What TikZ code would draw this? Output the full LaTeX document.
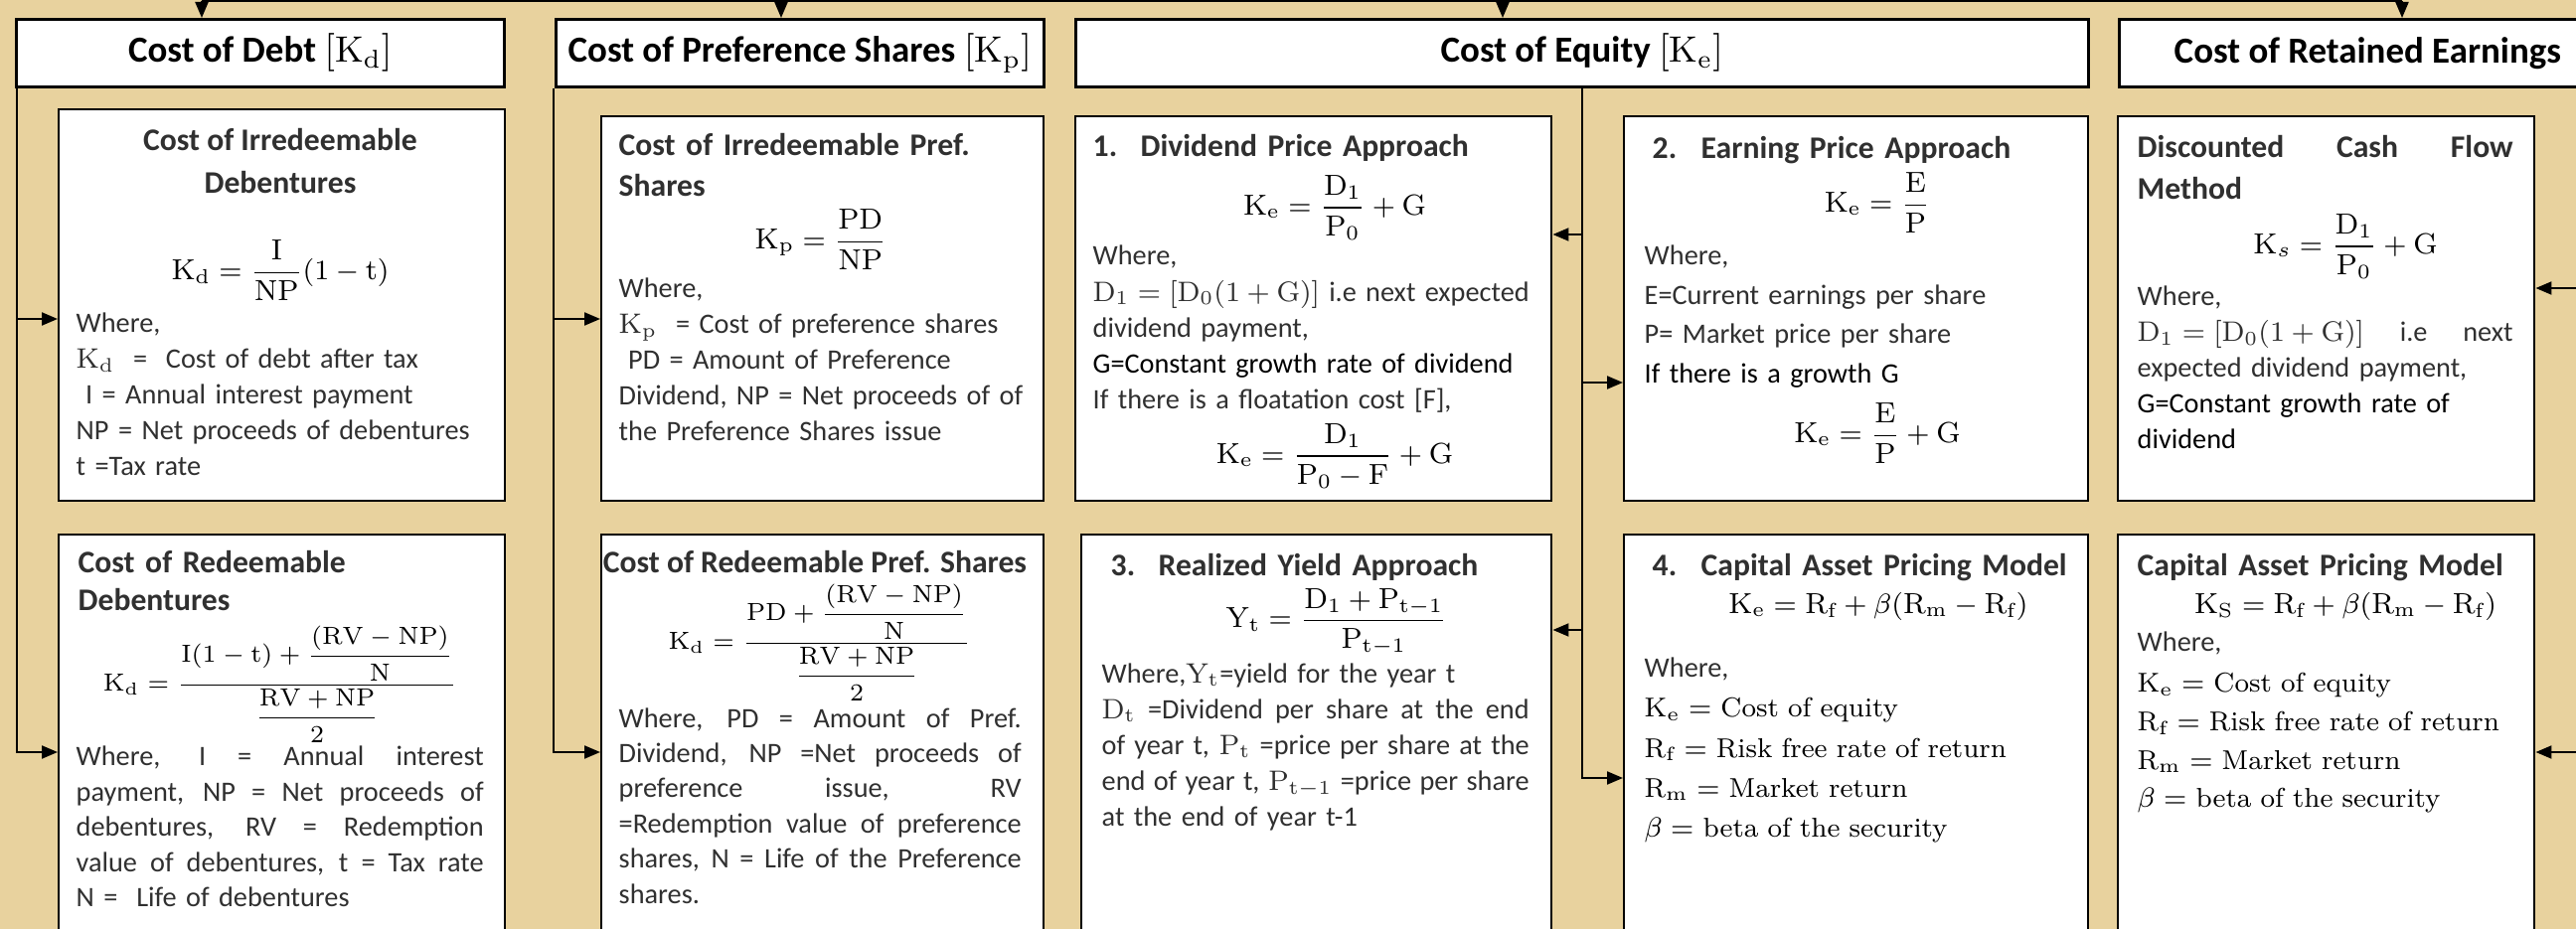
\documentclass[tikz,border=0pt]{standalone}
\usepackage{amsmath}
\usepackage{fontspec}
\setsansfont{Carlito}
\usetikzlibrary{arrows.meta}
\definecolor{parchment}{HTML}{E8D29E}
\definecolor{inkgray}{HTML}{303030}
\newcommand{\jline}[2]{\leavevmode\hbox to #1{\spaceskip=\fontdimen2\font plus 1fil\relax\xspaceskip=\spaceskip #2}}

\begin{document}
\begin{tikzpicture}[
    x=0.1mm, y=-0.1mm,
    >={Triangle[length=1.6mm,width=1.3mm]},
    headbox/.style={
      rectangle, anchor=north west,
      minimum height=6.8mm,
      fill=white, draw=black, line width=0.75pt,
      font=\sffamily\bfseries\fontsize{10.5}{12}\selectfont,
      inner sep=0pt,
    },
    card/.style={
      rectangle, anchor=north west,
      fill=white, draw=black, line width=0.7pt,
      inner sep=0pt,
    },
    cardtitle/.style={
      font=\sffamily\bfseries\fontsize{9}{12.2}\selectfont,
      text=inkgray, inner sep=0pt, anchor=base west,
    },
    cardtext/.style={
      font=\sffamily\fontsize{8.05}{10.2}\selectfont,
      text=inkgray, inner sep=0pt, anchor=base west,
    },
    serifline/.style={
      font=\rmfamily\fontsize{7.8}{11.4}\selectfont,
      text=black, inner sep=0pt, anchor=base west,
    },
    formula/.style={font=\fontsize{8.3}{10}\selectfont, text=black, inner sep=0pt},
    bigformula/.style={font=\fontsize{7.1}{9}\selectfont, text=black, inner sep=0pt},
    wire/.style={draw=black, line width=0.6pt},
  ]

  \useasboundingbox (0,0) rectangle (2592,935);
  \clip (0,0) rectangle (2592,935);
  \fill[parchment] (0,0) rectangle (2592,935);

  % --- Headers ---
  \node[headbox, minimum width=49.1mm] (hdDebt) at (15,18)
    {Cost of Debt {\mdseries$[\mathrm{K_d}]$}};
  \node[headbox, minimum width=49.1mm] (hdPref) at (558,18)
    {Cost of Preference Shares {\mdseries$[\mathrm{K_p}]$}};
  \node[headbox, minimum width=101.9mm] (hdEq) at (1081,18)
    {Cost of Equity {\mdseries$[\mathrm{K_e}]$}};
  \node[headbox, minimum width=50mm] (hdRet) at (2131,18)
    {Cost of Retained Earnings};

  % --- top bus ---
  \coordinate (busL) at (203,1);
  \coordinate (busR) at (2417,1);
  \draw[wire] (busL) -- (busR);
  \foreach \hd/\x in {hdDebt/203, hdPref/786, hdEq/1512, hdRet/2417} {
    \coordinate (t\hd) at (\x,1);
    \draw[wire, ->] (t\hd) -- (\hd.north -| t\hd);
  }

  % ================================================================
  %  COST OF DEBT
  % ================================================================
  \node[card, minimum width=44.9mm, minimum height=39.4mm] (irrDeb) at (58,109) {};
  \node[cardtitle, align=flush center, anchor=base, text width=42mm] (irrDebT) at (282,152)
    {Cost of Irredeemable\\Debentures};
  \node[formula] (irrDebF) at (282,272)
    {$\displaystyle\mathrm{K_d} = \frac{\mathrm{I}}{\mathrm{NP}}(1-\mathrm{t})$};
  \node[cardtext, text width=43mm] (irrDebW) at (76,335)
    {Where,\\
     $\mathrm{K_d}$ \ = \ Cost of debt after tax\\
     \ I = Annual interest payment\\
     NP = Net proceeds of debentures\\
     t =Tax rate};

  \node[card, minimum width=44.9mm, minimum height=41mm] (redDeb) at (58,537) {};
  \node[cardtitle, text width=41mm, font=\sffamily\bfseries\fontsize{9}{10.8}\selectfont]
    (redDebT) at (78,577) {Cost of Redeemable\\Debentures};
  \node[bigformula] (redDebF) at (282,689)
    {$\displaystyle\mathrm{K_d} = \frac{\mathrm{I}(1-\mathrm{t}) + \dfrac{(\mathrm{RV}-\mathrm{NP})}{\mathrm{N}}}{\dfrac{\mathrm{RV}+\mathrm{NP}}{2}}$};
  \node[cardtext, text width=42mm, font=\sffamily\fontsize{8.05}{10.1}\selectfont] (redDebW) at (76,771)
    {\jline{41mm}{Where, I = Annual interest}\\
     \jline{41mm}{payment, NP = Net proceeds of}\\
     \jline{41mm}{debentures, RV = Redemption}\\
     \jline{41mm}{value of debentures, t = Tax rate}\\
     N = \ Life of debentures};

  \coordinate (debtBus) at (17,321);
  \draw[wire, ->] (hdDebt.south -| debtBus) |- (redDeb.west |- 0,757);
  \draw[wire, ->] (debtBus) -- (irrDeb.west |- debtBus);

  % ================================================================
  %  COST OF PREFERENCE SHARES
  % ================================================================
  \node[card, minimum width=44.5mm, minimum height=38.7mm] (irrPref) at (604,116) {};
  \node[cardtitle, text width=42mm, font=\sffamily\bfseries\fontsize{9}{11.4}\selectfont]
    (irrPrefT) at (622,157) {Cost of Irredeemable Pref.\\Shares};
  \node[formula] (irrPrefF) at (826,241)
    {$\displaystyle\mathrm{K_p} = \frac{\mathrm{PD}}{\mathrm{NP}}$};
  \node[cardtext, text width=42.5mm] (irrPrefW) at (622,300)
    {Where,\\
     $\mathrm{K_p}$ \ = Cost of preference shares\\
     \ PD = Amount of Preference\\
     Dividend, NP = Net proceeds of of\\
     the Preference Shares issue};

  \node[card, minimum width=44.5mm, minimum height=41mm] (redPref) at (604,537) {};
  \node[cardtitle, anchor=base, align=flush center, text width=48mm] (redPrefT) at (820,577)
    {Cost of Redeemable Pref. Shares};
  \node[bigformula] (redPrefF) at (825,647)
    {$\displaystyle\mathrm{K_d} = \frac{\mathrm{PD} + \dfrac{(\mathrm{RV}-\mathrm{NP})}{\mathrm{N}}}{\dfrac{\mathrm{RV}+\mathrm{NP}}{2}}$};
  \node[cardtext, text width=41.5mm, font=\sffamily\fontsize{8.05}{10.1}\selectfont] (redPrefW) at (622,732)
    {\jline{40.5mm}{Where, PD = Amount of Pref.}\\
     \jline{40.5mm}{Dividend, NP =Net proceeds of}\\
     \jline{40.5mm}{preference issue, RV}\\
     \jline{40.5mm}{=Redemption value of preference}\\
     \jline{40.5mm}{shares, N = Life of the Preference}\\
     shares.};

  \coordinate (prefBus) at (557,321);
  \draw[wire, ->] (hdPref.south -| prefBus) |- (redPref.west |- 0,757);
  \draw[wire, ->] (prefBus) -- (irrPref.west |- prefBus);

  % ================================================================
  %  COST OF EQUITY
  % ================================================================
  \node[card, minimum width=47.9mm, minimum height=38.7mm] (divApp) at (1081,116) {};
  \node[cardtitle, text width=45mm] (divAppT) at (1099,158)
    {\makebox[4.8mm][l]{1.}Dividend Price Approach};
  \node[formula] (divAppF) at (1343,209)
    {$\displaystyle\mathrm{K_e} = \frac{\mathrm{D_1}}{\mathrm{P_0}} + \mathrm{G}$};
  \node[cardtext, text width=44.5mm, font=\sffamily\fontsize{8.05}{10.3}\selectfont] (divAppW) at (1099,267)
    {Where,\\
     \jline{43.9mm}{\mbox{$\mathrm{D_1} = [\mathrm{D_0}(1+\mathrm{G})]$} i.e next expected}\\
     dividend payment,\\
     {\color{black}G=Constant growth rate of dividend}\\
     If there is a floatation cost [F],};
  \node[formula] (divAppF2) at (1343,459)
    {$\displaystyle\mathrm{K_e} = \frac{\mathrm{D_1}}{\mathrm{P_0}-\mathrm{F}} + \mathrm{G}$};

  \node[card, minimum width=46.7mm, minimum height=38.7mm] (earnApp) at (1633,116) {};
  \node[cardtitle, text width=43mm] (earnAppT) at (1662,160)
    {\makebox[4.9mm][l]{2.}Earning Price Approach};
  \node[formula] (earnAppF) at (1889,204)
    {$\displaystyle\mathrm{K_e} = \frac{\mathrm{E}}{\mathrm{P}}$};
  \node[cardtext, text width=43mm, font=\sffamily\fontsize{8.05}{11.2}\selectfont] (earnAppW) at (1654,267)
    {Where,\\
     E=Current earnings per share\\
     P= Market price per share\\
     {\color{black}If there is a growth G}};
  \node[formula] (earnAppF2) at (1889,436)
    {$\displaystyle\mathrm{K_e} = \frac{\mathrm{E}}{\mathrm{P}} + \mathrm{G}$};

  \node[card, minimum width=47.3mm, minimum height=41mm] (yieldApp) at (1087,537) {};
  \node[cardtitle, text width=44mm] (yieldAppT) at (1117,580)
    {\makebox[4.8mm][l]{3.}Realized Yield Approach};
  \node[formula] (yieldAppF) at (1345,626)
    {$\displaystyle\mathrm{Y_t} = \frac{\mathrm{D_1} + \mathrm{P_{t-1}}}{\mathrm{P_{t-1}}}$};
  \node[cardtext, text width=44mm, font=\sffamily\fontsize{8.05}{10.3}\selectfont] (yieldAppW) at (1108,687)
    {Where,$\mathrm{Y_t}$=yield for the year t\\
     \jline{43mm}{\mbox{$\mathrm{D_t}$} =Dividend per share at the end}\\
     \jline{43mm}{of year t, \mbox{$\mathrm{P_t}$} =price per share at the}\\
     \jline{43mm}{end of year t, \mbox{$\mathrm{P_{t-1}}$} =price per share}\\
     at the end of year t-1};

  \node[card, minimum width=46.7mm, minimum height=41mm] (capmEq) at (1633,537) {};
  \node[cardtitle, text width=44mm] (capmEqT) at (1662,580)
    {\makebox[4.9mm][l]{4.}Capital Asset Pricing Model};
  \node[formula, anchor=base] (capmEqF) at (1890,617)
    {$\mathrm{K_e} = \mathrm{R_f} + \beta(\mathrm{R_m} - \mathrm{R_f})$};
  \node[cardtext, text width=43mm] (capmEqW) at (1654,682) {Where,};
  \node[serifline, text width=44mm] (capmEqL) at (1654,722)
    {$\mathrm{K_e} =$ Cost of equity\\
     $\mathrm{R_f} =$ Risk free rate of return\\
     $\mathrm{R_m} =$ Market return\\
     $\beta =$ beta of the security};

  \draw[wire, ->] (hdEq.south) |- (capmEq.west |- 0,783);
  \foreach \bx/\y in {divApp/236, yieldApp/634} {
    \draw[wire, ->] (hdEq.south |- 0,\y) -- (\bx.east |- 0,\y);
  }
  \draw[wire, ->] (hdEq.south |- 0,385) -- (earnApp.west |- 0,385);

  % ================================================================
  %  COST OF RETAINED EARNINGS
  % ================================================================
  \node[card, minimum width=41.9mm, minimum height=38.7mm] (dcf) at (2130,116) {};
  \node[cardtitle, text width=38.5mm, font=\sffamily\bfseries\fontsize{9}{11.7}\selectfont] (dcfT) at (2150,159)
    {\jline{37.8mm}{Discounted Cash Flow}\\Method};
  \node[formula] (dcfF) at (2360,248)
    {$\displaystyle\mathrm{K}_s = \frac{\mathrm{D_1}}{\mathrm{P_0}} + \mathrm{G}$};
  \node[cardtext, text width=38.5mm, font=\sffamily\fontsize{8.05}{10.2}\selectfont] (dcfW) at (2150,308)
    {Where,\\
     \jline{37.8mm}{\mbox{$\mathrm{D_1} = [\mathrm{D_0}(1+\mathrm{G})]$} i.e next}\\
     expected dividend payment,\\
     {\color{black}G=Constant growth rate of}\\
     {\color{black}dividend}};

  \node[card, minimum width=41.9mm, minimum height=41mm] (capmRet) at (2130,537) {};
  \node[cardtitle, text width=39mm] (capmRetT) at (2150,580)
    {Capital Asset Pricing Model};
  \node[formula, anchor=base] (capmRetF) at (2360,617)
    {$\mathrm{K_S} = \mathrm{R_f} + \beta(\mathrm{R_m} - \mathrm{R_f})$};
  \node[cardtext, text width=38mm] (capmRetW) at (2150,655) {Where,};
  \node[serifline, text width=39mm, font=\rmfamily\fontsize{7.8}{11}\selectfont] (capmRetL) at (2150,697)
    {$\mathrm{K_e} =$ Cost of equity\\
     $\mathrm{R_f} =$ Risk free rate of return\\
     $\mathrm{R_m} =$ Market return\\
     $\beta =$ beta of the security};

  \coordinate (retBus) at (2600,290);
  \draw[wire, ->] (hdRet.south -| retBus) |- (capmRet.east |- 0,757);
  \draw[wire, ->] (retBus) -- (dcf.east |- retBus);

\end{tikzpicture}
\end{document}
